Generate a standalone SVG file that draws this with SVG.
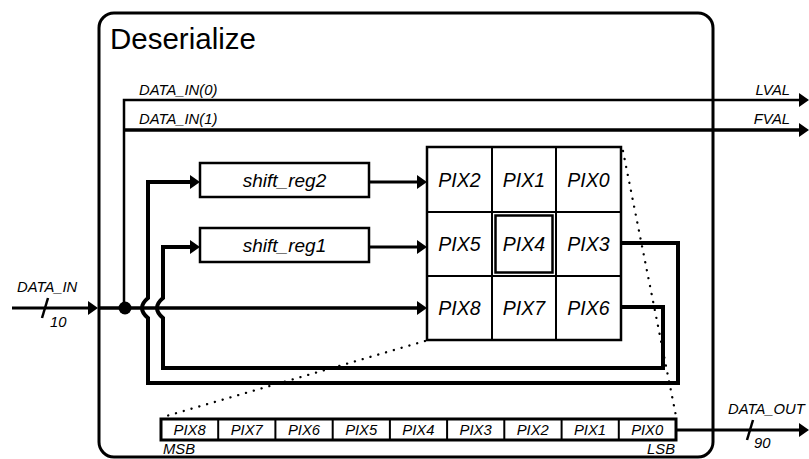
<svg xmlns="http://www.w3.org/2000/svg" width="809" height="459" viewBox="0 0 809 459">
<style>
text{font-family:"Liberation Sans",Arial,sans-serif;fill:#000}
.it{font-style:italic}
.sm{font-size:14.8px}
.cell{font-size:19.5px;text-anchor:middle}
.bus{font-size:14.8px;text-anchor:middle}
.reg{font-size:19px;text-anchor:middle}
.w{fill:none;stroke:#000;stroke-linejoin:miter}
.dot{fill:none;stroke:#000;stroke-width:2.3;stroke-dasharray:0.1 8;stroke-linecap:round}
</style>
<defs>
<marker id="ah" viewBox="0 0 10 14" refX="1" refY="7" markerWidth="10" markerHeight="14" markerUnits="userSpaceOnUse" orient="auto">
<path d="M0,0 L10,7 L0,14 Z" fill="#000"/>
</marker>
</defs>

<g id="deserialize">
<rect x="99" y="13" width="614" height="444" rx="15" ry="15" fill="#fff" stroke="#000" stroke-width="3"/>
<text x="110" y="49" style="font-size:29.5px">Deserialize</text>
</g>

<g id="shift_reg2">
<rect x="200" y="163" width="169" height="34" fill="#fff" stroke="#000" stroke-width="2.5"/>
<text class="it reg" x="284.5" y="186.5">shift_reg2</text>
</g>
<g id="shift_reg1">
<rect x="200" y="228" width="169" height="34" fill="#fff" stroke="#000" stroke-width="2.5"/>
<text class="it reg" x="284.5" y="251.5">shift_reg1</text>
</g>

<g id="pixel_grid">
<rect x="427" y="147" width="194" height="193" fill="#fff" stroke="#000" stroke-width="2.5"/>
<path d="M492,147 V340 M556,147 V340 M427,212 H621 M427,276 H621" class="w" stroke-width="2"/>
<rect x="495.5" y="215.5" width="57" height="57" class="w" stroke-width="2.5"/>
<text class="it cell" x="459.5" y="186.5">PIX2</text>
<text class="it cell" x="524" y="186.5">PIX1</text>
<text class="it cell" x="588.5" y="186.5">PIX0</text>
<text class="it cell" x="459.5" y="251">PIX5</text>
<text class="it cell" x="524" y="251">PIX4</text>
<text class="it cell" x="588.5" y="251">PIX3</text>
<text class="it cell" x="459.5" y="315">PIX8</text>
<text class="it cell" x="524" y="315">PIX7</text>
<text class="it cell" x="588.5" y="315">PIX6</text>
</g>

<g id="output_bus">
<rect x="161" y="419" width="515" height="21" fill="#fff" stroke="#000" stroke-width="3"/>
<path d="M218.2,419 V440 M275.4,419 V440 M332.7,419 V440 M389.9,419 V440 M447.1,419 V440 M504.3,419 V440 M561.6,419 V440 M618.8,419 V440" class="w" stroke-width="2"/>
<text class="it bus" x="189.6" y="435">PIX8</text>
<text class="it bus" x="246.8" y="435">PIX7</text>
<text class="it bus" x="304" y="435">PIX6</text>
<text class="it bus" x="361.2" y="435">PIX5</text>
<text class="it bus" x="418.4" y="435">PIX4</text>
<text class="it bus" x="475.6" y="435">PIX3</text>
<text class="it bus" x="532.8" y="435">PIX2</text>
<text class="it bus" x="590" y="435">PIX1</text>
<text class="it bus" x="647.2" y="435">PIX0</text>
<text class="it sm" x="163" y="454">MSB</text>
<text class="it sm" x="675" y="454" text-anchor="end">LSB</text>
</g>

<g id="connectors">
<path d="M124,308 V100 H800" class="w" stroke-width="2.5" marker-end="url(#ah)"/>
<path d="M124,130 H800" class="w" stroke-width="3.5" marker-end="url(#ah)"/>
<path d="M12,308 H89" class="w" stroke-width="3" marker-end="url(#ah)"/>
<path d="M98,308 H418" class="w" stroke-width="3.5" marker-end="url(#ah)"/>
<circle cx="125" cy="308" r="6.5" fill="#000"/>
<path d="M369,182 H418" class="w" stroke-width="3" marker-end="url(#ah)"/>
<path d="M369,247 H418" class="w" stroke-width="3" marker-end="url(#ah)"/>
<path d="M621,243 H678 V383 H148 V318 Q136,308 148,298 V182 H191" class="w" stroke-width="4" marker-end="url(#ah)"/>
<path d="M621,307 H663 V368 H163 V318 Q151,308 163,298 V247 H191" class="w" stroke-width="4" marker-end="url(#ah)"/>
<path d="M676,430 H800" class="w" stroke-width="3" marker-end="url(#ah)"/>
<path d="M42,318 L48,298" class="w" stroke-width="2.5"/>
<path d="M747,440 L753,420" class="w" stroke-width="2.5"/>
<path d="M623,151 L676,416" class="dot"/>
<path d="M425,341 L163,417" class="dot"/>
<text class="it sm" x="139" y="95">DATA_IN(0)</text>
<text class="it sm" x="139" y="124">DATA_IN(1)</text>
<text class="it sm" x="790" y="95" text-anchor="end">LVAL</text>
<text class="it sm" x="790" y="124" text-anchor="end">FVAL</text>
<text class="it sm" x="17" y="292">DATA_IN</text>
<text class="it sm" x="50" y="327">10</text>
<text class="it sm" x="728" y="414">DATA_OUT</text>
<text class="it sm" x="754" y="448">90</text>
</g>
</svg>
